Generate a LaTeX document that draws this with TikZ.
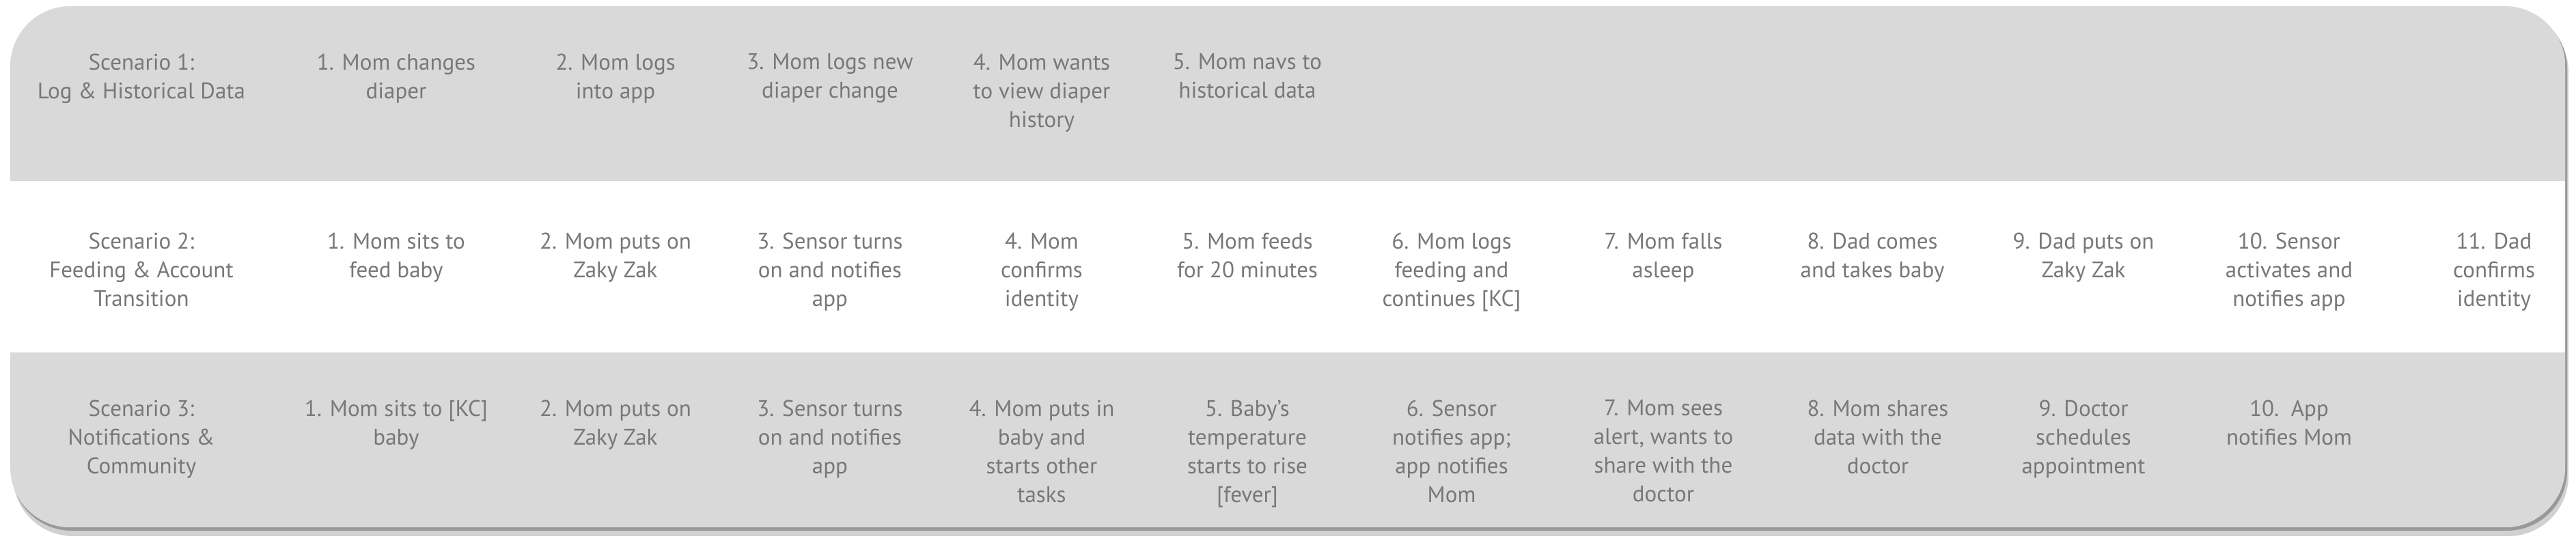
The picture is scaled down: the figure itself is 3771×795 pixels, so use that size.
\documentclass[tikz,border=0pt]{standalone}
\usepackage{fontspec}
\setmainfont{PT Sans}
\usetikzlibrary{positioning}
\definecolor{bandgray}{HTML}{D9D9D9}
\definecolor{txtgray}{HTML}{787878}

\begin{document}
\begin{tikzpicture}[x=0.01cm, y=-0.01cm,
  stage/.style={anchor=north, inner sep=0pt, align=center, text=txtgray,
    font=\fontsize{9.4}{11.95}\selectfont, execute at begin node=\strut},
  board/.style={rounded corners=0.88cm}]
  \useasboundingbox (0,0) rectangle (3771,795);

  % shadow and board
  \fill[board, black!18] (19,17) rectangle (3760,785);
  \fill[board, black!40] (17,13) rectangle (3758,777);
  \fill[board, white] (15,9) rectangle (3755,772);
  \begin{scope}
    \clip[board] (15,9) rectangle (3755,772);
    \fill[bandgray] (15,9) rectangle (3755,265);
    \fill[bandgray] (15,516) rectangle (3755,772);
  \end{scope}

  % scenario 1
  \node (sc1) [stage] at (207,78) {Scenario 1:\\Log \& Historical Data};
  \node (a1) [stage] at (580,78) {1. Mom changes\\diaper};
  \node (a2) [stage] at (901,78) {2. Mom logs\\into app};
  \node (a3) [stage] at (1215,78) {3. Mom logs new\\diaper change};
  \node (a4) [stage] at (1525,78) {4. Mom wants\\to view diaper\\history};
  \node (a5) [stage] at (1826,78) {5. Mom navs to\\historical data};

  % scenario 2
  \node (sc2) [stage] at (207,340) {Scenario 2:\\Feeding \& Account\\Transition};
  \node (b1) [stage] at (580,340) {1. Mom sits to\\feed baby};
  \node (b2) [stage] at (901,340) {2. Mom puts on\\Zaky Zak};
  \node (b3) [stage] at (1215,340) {3. Sensor turns\\on and notifies\\app};
  \node (b4) [stage] at (1525,340) {4. Mom\\confirms\\identity};
  \node (b5) [stage] at (1826,340) {5. Mom feeds\\for 20 minutes};
  \node (b6) [stage] at (2125,340) {6. Mom logs\\feeding and\\continues [KC]};
  \node (b7) [stage] at (2435,340) {7. Mom falls\\asleep};
  \node (b8) [stage] at (2741,340) {8. Dad comes\\and takes baby};
  \node (b9) [stage] at (3050,340) {9. Dad puts on\\Zaky Zak};
  \node (b10) [stage] at (3351,340) {10. Sensor\\activates and\\notifies app};
  \node (b11) [stage] at (3651,340) {11. Dad\\confirms\\identity};

  % scenario 3
  \node (sc3) [stage] at (207,585) {Scenario 3:\\Notifications \&\\Community};
  \node (c1) [stage] at (580,585) {1. Mom sits to [KC]\\baby};
  \node (c2) [stage] at (901,585) {2. Mom puts on\\Zaky Zak};
  \node (c3) [stage] at (1215,585) {3. Sensor turns\\on and notifies\\app};
  \node (c4) [stage] at (1525,585) {4. Mom puts in\\baby and\\starts other\\tasks};
  \node (c5) [stage] at (1826,585) {5. Baby’s\\temperature\\starts to rise\\{[fever]}};
  \node (c6) [stage] at (2125,585) {6. Sensor\\notifies app;\\app notifies\\Mom};
  \node (c7) [stage] at (2435,585) {7. Mom sees\\alert, wants to\\share with the\\doctor};
  \node (c8) [stage] at (2749,585) {8. Mom shares\\data with the\\doctor};
  \node (c9) [stage] at (3050,585) {9. Doctor\\schedules\\appointment};
  \node (c10) [stage] at (3351,585) {10.\ \ App\\notifies Mom};
\end{tikzpicture}
\end{document}
